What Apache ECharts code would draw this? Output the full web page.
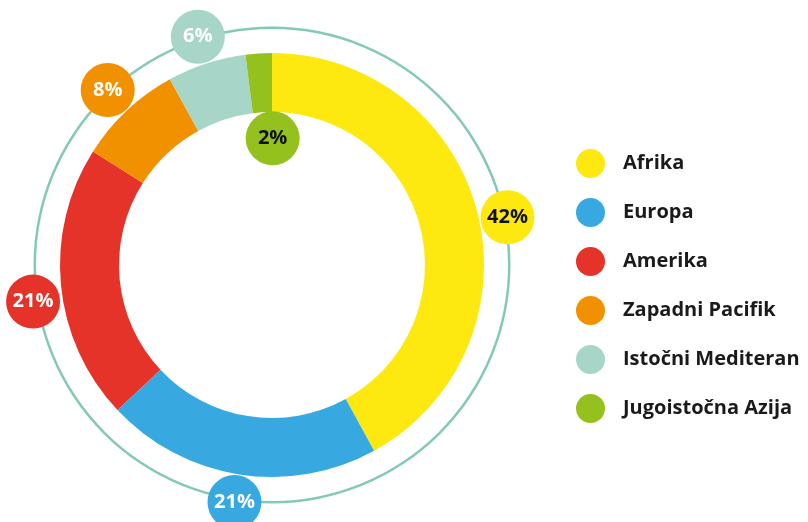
<!DOCTYPE html>
<html>
<head>
<meta charset="utf-8">
<script src="https://cdn.jsdelivr.net/npm/echarts@6/dist/echarts.min.js"></script>
<style>
  html, body { margin: 0; padding: 0; background: #fff; }
  #main { width: 808px; height: 522px; }
</style>
</head>
<body>
<div id="main"></div>
<script>
// podaci
var regions = ['Afrika', 'Europa', 'Amerika', 'Zapadni Pacifik', 'Istočni Mediteran', 'Jugoistočna Azija'];
var shares = [42, 21, 21, 8, 6, 2];
var colors = ['#fde90f', '#37a8e0', '#e6332a', '#f29100', '#a7d5c7', '#95c11f'];
var labelColors = ['#111', '#fff', '#fff', '#fff', '#fff', '#111'];

var center = [272, 265];
var fontFamily = '"Open Sans", "Noto Sans", sans-serif';

var myChart = echarts.init(document.getElementById('main'));

function bubble(i, extra) {
  return Object.assign({
    show: true,
    position: 'inside',
    formatter: '{c}%',
    color: labelColors[i],
    backgroundColor: colors[i],
    width: 54,
    height: 54,
    lineHeight: 54,
    borderRadius: 27,
    align: 'center',
    fontFamily: fontFamily,
    fontWeight: 'bold',
    fontSize: 20
  }, extra || {});
}

// oznake na vanjskom krugu
var outerLabels = regions.map(function (name, i) {
  var extra = {};
  if (name === 'Afrika') extra.offset = [3, 12];
  if (name === 'Amerika') extra.offset = [0, 14];
  return {
    name: name,
    value: shares[i],
    label: i === regions.length - 1 ? { show: false } : bubble(i, extra)
  };
});

// oznaka 2% unutar kruga
var innerLabels = regions.map(function (name, i) {
  return {
    name: name,
    value: shares[i],
    label: i === regions.length - 1 ? bubble(i, { offset: [9, 6] }) : { show: false }
  };
});

myChart.setOption({
  animation: false,
  legend: {
    orient: 'vertical',
    left: 571,
    top: 144,
    icon: 'circle',
    itemWidth: 29,
    itemHeight: 29,
    itemGap: 20,
    selectedMode: false,
    data: regions,
    textStyle: {
      fontFamily: fontFamily,
      fontWeight: 'bold',
      fontSize: 20,
      color: '#1a1a1a',
      padding: [0, 0, 0, 13]
    }
  },
  series: [
    {
      name: 'okvir',
      type: 'pie',
      silent: true,
      center: center,
      radius: [236, 238.5],
      label: { show: false },
      itemStyle: { color: '#84c9b3' },
      data: [{ name: 'okvir', value: 1 }]
    },
    {
      name: 'udio',
      type: 'pie',
      center: center,
      radius: [153, 212],
      startAngle: 90,
      clockwise: true,
      silent: true,
      label: { show: false },
      labelLine: { show: false },
      data: regions.map(function (name, i) {
        return { name: name, value: shares[i], itemStyle: { color: colors[i] } };
      })
    },
    {
      name: 'oznake',
      type: 'pie',
      z: 5,
      center: center,
      radius: [210, 264],
      startAngle: 90,
      silent: true,
      avoidLabelOverlap: false,
      itemStyle: { color: 'transparent' },
      labelLine: { show: false },
      data: outerLabels
    },
    {
      name: 'oznake2',
      type: 'pie',
      z: 5,
      center: center,
      radius: [104, 156],
      startAngle: 90,
      silent: true,
      avoidLabelOverlap: false,
      itemStyle: { color: 'transparent' },
      labelLine: { show: false },
      data: innerLabels
    }
  ]
});
</script>
</body>
</html>
